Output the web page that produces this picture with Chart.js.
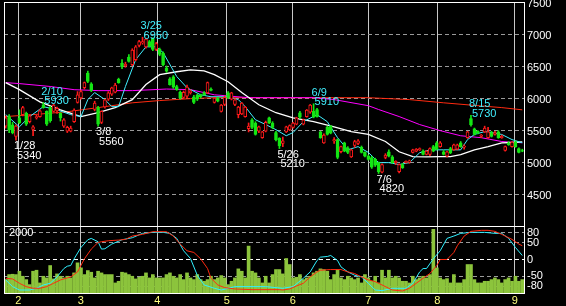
<!DOCTYPE html>
<html>
<head>
<meta charset="utf-8">
<script src="https://cdn.jsdelivr.net/npm/chart.js@4.4.0/dist/chart.umd.min.js"></script>
<style>
  html, body { margin: 0; padding: 0; background: #000; overflow: hidden; }
  #wrap { position: relative; width: 566px; height: 306px; background: #000; }
  #priceChart { position: absolute; left: 0; top: 0; }
  #subChart { position: absolute; left: 0; top: 226px; }
</style>
</head>
<body>
<div id="wrap">
  <canvas id="priceChart" width="566" height="227"></canvas>
  <canvas id="subChart" width="566" height="80"></canvas>
</div>
<script>
// daily candles, one entry per trading day (late Jan .. early Sep)
const opens = [
  5560,5710,5580,5400,5690,5740,5760,5630,5510,5690,
  5710,5895,5790,5850,5790,5800,5760,5560,5480,5480,
  5630,5930,6000,6160,6390,6220,5820,5850,5620,5860,
  5980,6060,6090,6290,6540,6500,6640,6520,6600,6820,
  6860,6800,6880,6930,6760,6760,6700,6470,6300,6330,
  6180,6090,6010,6030,6080,6020,6050,6040,6080,6080,
  6140,5930,6000,5790,5900,6080,5980,5900,5740,5750,
  5710,5520,5660,5610,5480,5380,5480,5690,5610,5460,
  5370,5290,5470,5500,5540,5590,5770,5590,5710,5780,
  5790,5820,5470,5300,5540,5560,5330,5350,5160,5300,
  5220,5080,5260,5290,5230,5150,5090,5070,5040,4990,
  4840,5070,5160,5080,4990,4850,4960,4990,5000,5150,
  5170,5190,5170,5120,5120,5240,5300,5240,5160,5090,
  5210,5190,5200,5300,5230,5380,5680,5520,5480,5400,
  5470,5380,5460,5430,5470,5380,5180,5300,5240,5310,
  5210,5180
];
const highs = [
  5720,5740,5620,5580,5815,5870,5780,5740,5570,5730,
  5820,5930,5800,5870,5910,5860,5770,5680,5560,5560,
  5830,6100,6120,6250,6420,6240,5950,5870,5800,5980,
  6100,6170,6230,6310,6600,6560,6680,6770,6820,6900,
  6950,6930,6900,6940,6870,6780,6720,6500,6320,6350,
  6200,6110,6110,6200,6130,6040,6060,6060,6100,6250,
  6160,6010,6010,5900,6030,6100,6090,5990,5870,5930,
  5870,5610,5680,5630,5560,5480,5640,5700,5630,5480,
  5380,5390,5560,5580,5620,5700,5790,5670,5820,5900,
  5910,5840,5480,5440,5560,5570,5380,5360,5250,5310,
  5240,5200,5340,5350,5250,5160,5110,5090,5060,5000,
  4970,5130,5190,5100,5020,4970,4980,5020,5030,5200,
  5210,5220,5190,5180,5220,5260,5320,5320,5180,5170,
  5230,5280,5280,5320,5270,5480,5730,5530,5490,5430,
  5560,5540,5480,5480,5490,5420,5250,5320,5320,5330,
  5220,5200
];
const lows = [
  5530,5460,5440,5340,5600,5720,5570,5610,5410,5670,
  5700,5840,5570,5620,5780,5760,5640,5540,5460,5470,
  5620,5920,5980,6140,6240,6100,5800,5560,5600,5840,
  5960,6040,6080,6230,6460,6480,6560,6500,6580,6800,
  6840,6780,6800,6740,6740,6660,6500,6400,6200,6150,
  6120,5980,5990,6000,6060,5910,5960,6000,6040,6070,
  6110,5920,5940,5780,5880,5990,5970,5880,5690,5740,
  5700,5470,5520,5420,5460,5370,5470,5600,5520,5330,
  5210,5240,5460,5490,5530,5580,5680,5580,5700,5760,
  5690,5700,5370,5290,5420,5440,5290,5050,5140,5160,
  5130,5070,5230,5270,5140,5080,5030,4900,4930,4820,
  4830,5050,5080,4980,4960,4830,4900,4980,4980,5140,
  5160,5180,5110,5110,5100,5160,5190,5230,5110,5080,
  5130,5180,5190,5230,5200,5370,5560,5420,5440,5380,
  5460,5370,5390,5420,5370,5370,5170,5260,5230,5230,
  5140,5160
];
const closes = [
  5690,5500,5460,5560,5615,5850,5590,5720,5550,5710,
  5800,5850,5590,5640,5890,5840,5690,5660,5540,5530,
  5810,6050,6100,6240,6260,6120,5920,5590,5790,5970,
  6080,6160,6200,6240,6490,6530,6570,6750,6800,6880,
  6880,6920,6810,6760,6850,6680,6520,6420,6210,6170,
  6130,6000,6090,6170,6110,5930,5980,6020,6050,6240,
  6120,6000,5950,5890,6010,6010,6080,5970,5860,5920,
  5860,5560,5540,5430,5550,5470,5620,5610,5540,5350,
  5250,5330,5550,5570,5610,5690,5700,5660,5810,5890,
  5700,5710,5380,5420,5430,5450,5350,5070,5240,5170,
  5150,5190,5320,5330,5150,5090,5040,4920,4950,4850,
  4960,5110,5090,4990,5010,4960,4910,5010,5020,5190,
  5200,5210,5120,5170,5210,5170,5200,5300,5120,5160,
  5140,5270,5270,5240,5250,5470,5580,5430,5450,5420,
  5530,5470,5400,5460,5380,5400,5240,5270,5310,5240,
  5150,5170
];
// volume (thousand shares)
const volumes = [
  400,550,560,550,650,500,400,250,650,680,
  300,500,450,820,420,570,500,450,500,450,
  600,900,750,550,670,620,450,650,600,550,
  550,550,300,350,620,600,550,500,420,470,
  500,600,450,550,450,450,450,550,600,500,
  450,550,400,600,450,400,550,400,350,400,
  500,400,450,520,450,250,350,450,720,650,
  450,1400,650,600,450,300,500,300,550,700,
  700,570,1030,850,450,470,550,400,450,500,
  600,650,720,700,650,400,550,700,450,400,
  500,450,400,450,300,550,450,350,500,300,
  680,450,680,450,500,450,350,350,300,500,
  400,450,500,450,550,1900,750,450,400,430,
  300,550,300,300,400,850,850,400,300,300,
  350,350,400,450,400,300,400,450,350,500,
  350,400
];

// moving averages: [day index, price]
const maShort = [[0,5740],[4,5550],[7,5710],[11,5865],[15,5815],[19,5740],[22,5710],[24,5975],[26,6085],[29,5975],[31,5865],[33,5865],[35,6180],[38,6600],[41,6800],[44,6800],[46,6710],[50,6335],[53,6160],[57,6050],[60,6020],[65,6020],[68,5975],[70,5865],[73,5660],[76,5585],[79,5505],[82,5410],[84,5460],[87,5630],[91,5740],[94,5630],[97,5380],[100,5190],[103,5240],[106,5150],[109,4990],[112,4990],[115,4960],[118,4990],[121,5145],[124,5190],[128,5190],[133,5190],[135,5350],[137,5430],[140,5475],[142,5460],[145,5430],[148,5350],[151,5300]];
const maMid = [[0,6240],[4,6130],[10,5940],[16,5815],[22,5710],[27,5770],[32,5850],[37,5975],[41,6210],[45,6365],[50,6410],[54,6440],[58,6425],[61,6365],[65,6255],[69,6085],[74,5895],[79,5770],[84,5690],[90,5630],[96,5550],[101,5475],[106,5430],[111,5320],[115,5160],[119,5085],[123,5080],[127,5085],[130,5085],[133,5115],[137,5190],[141,5240],[145,5300],[148,5305],[151,5315]];
const maLong = [[0,6240],[4,6225],[13,6180],[20,6130],[27,6115],[37,6115],[47,6140],[54,6130],[61,6050],[71,6005],[80,6005],[90,6005],[96,5975],[106,5880],[109,5820],[115,5710],[121,5585],[127,5490],[133,5410],[139,5380],[145,5320],[151,5300]];
const maYear = [[0,5710],[8,5740],[18,5785],[27,5850],[37,5925],[45,5960],[54,5990],[61,6005],[106,6005],[118,5975],[128,5925],[138,5880],[145,5850],[151,5815]];

// oscillator pair in the lower panel
const oscFast = [[0,-61],[2,-81],[4,-91],[7,-91],[9,-86],[11,-76],[13,-71],[15,-52],[17,-27],[18,-20],[19,-18],[20,2],[22,36],[24,59],[25,63],[27,53],[28,31],[29,32],[31,46],[34,59],[37,65],[40,78],[43,81],[46,81],[48,78],[50,63],[52,26],[54,3],[56,-47],[58,-76],[61,-86],[63,-91],[67,-81],[76,-81],[81,-86],[84,-81],[87,-56],[89,-37],[91,-3],[92,7],[94,9],[95,12],[97,-3],[98,-22],[100,-37],[102,-47],[104,-52],[106,-71],[108,-91],[110,-93],[113,-86],[117,-86],[119,-71],[121,-37],[122,-27],[123,-27],[125,2],[127,26],[129,63],[131,70],[133,78],[136,81],[140,81],[143,78],[145,78],[147,63],[149,36],[151,12]];
const oscSlow = [[0,-56],[2,-58],[4,-71],[6,-81],[8,-86],[10,-86],[12,-81],[14,-71],[16,-61],[18,-55],[19,-52],[21,-37],[23,2],[25,31],[27,51],[28,53],[30,56],[33,58],[35,60],[37,70],[40,75],[43,83],[47,83],[49,70],[51,46],[53,26],[55,21],[57,2],[59,-27],[60,-56],[62,-76],[64,-84],[67,-88],[72,-90],[80,-90],[81,-91],[83,-88],[85,-79],[87,-71],[89,-52],[91,-37],[92,-32],[95,-30],[98,-30],[100,-37],[102,-42],[104,-52],[106,-61],[108,-66],[110,-76],[113,-91],[116,-94],[118,-86],[120,-71],[122,-56],[124,-42],[126,-18],[127,0],[129,0],[131,21],[132,41],[134,70],[136,84],[139,87],[141,87],[143,84],[145,75],[148,60],[150,46],[151,41]];

// month boundaries on the day axis and their labels
const monthTicks = [3.68, 21.92, 44.31, 64.6, 83.89, 105.99, 126.16, 148.78];
const monthLabels = ['2', '3', '4', '5', '6', '7', '8', '9'];
const priceTicks = [4500, 5000, 5500, 6000, 6500, 7000, 7500];
const oscTicks = [-80, -50, 0, 50, 80];

// marked highs and lows
const markIndex = [3, 11, 27, 40, 80, 90, 109, 136];
const markDate = ['1/28', '2/10', '3/8', '3/25', '5/26', '6/9', '7/6', '8/15'];
const markPrice = [5340, 5930, 5560, 6950, 5210, 5910, 4820, 5730];
const markIsHigh = [false, true, false, true, false, true, false, true];

const FONT = "'Liberation Sans', Arial, sans-serif";
const UP = '#ff1a1a';
const DOWN = '#14e614';
const CYAN = '#40f0ff';

function isUp(i) { return closes[i] >= opens[i]; }
function pts(pairs) { return pairs.map(p => ({ x: p[0], y: p[1] })); }
function lineSet(pairs, color, width, order) {
    return {
        type: 'line', data: pts(pairs), yAxisID: 'y', borderColor: color, borderWidth: width,
        pointRadius: 0, tension: 0, order: order
    };
}

function dayAxis(showLabels) {
    return {
        type: 'linear', min: -0.5, max: 151.5, offset: false, bounds: 'data',
        afterBuildTicks: s => { s.ticks = monthTicks.map(v => ({ value: v })); },
        afterFit: s => { s.height = showLabels ? 13 : 0; s.paddingLeft = 0; s.paddingRight = 0; },
        grid: { color: '#c8c8c8', lineWidth: 1, drawTicks: false, offset: false },
        border: { display: false },
        ticks: {
            display: showLabels, autoSkip: false, maxRotation: 0, padding: 1,
            color: '#ffff80', font: { family: FONT, size: 11 },
            callback: (v, i) => monthLabels[i]
        }
    };
}

const frame = {
    id: 'frame',
    afterDraw(chart) {
        const { ctx, chartArea: a } = chart;
        ctx.save();
        ctx.strokeStyle = '#ffffff';
        ctx.lineWidth = 1;
        ctx.strokeRect(a.left + 0.5, a.top + 0.5, a.right - a.left, a.bottom - a.top);
        ctx.restore();
    }
};

const markLabels = {
    id: 'markLabels',
    afterDatasetsDraw(chart) {
        const { ctx, scales: { x, y } } = chart;
        ctx.save();
        ctx.font = '11px ' + FONT;
        ctx.textAlign = 'left';
        ctx.textBaseline = 'alphabetic';
        markIndex.forEach((idx, k) => {
            const px = x.getPixelForValue(idx);
            const py = y.getPixelForValue(markPrice[k]);
            if (markIsHigh[k]) {
                ctx.fillStyle = CYAN;
                ctx.fillText(markDate[k], px - 2, py - 7.8);
                ctx.fillText(String(markPrice[k]), px + 1, py + 1.5);
            } else {
                ctx.fillStyle = '#ffffff';
                ctx.fillText(markDate[k], px - 2, py + 9);
                ctx.fillText(String(markPrice[k]), px + 1, py + 18.5);
            }
        });
        ctx.restore();
    }
};

const volLabel = {
    id: 'volLabel',
    afterDatasetsDraw(chart) {
        const { ctx, scales: { vol } } = chart;
        ctx.save();
        ctx.font = '11px ' + FONT;
        ctx.fillStyle = '#ffffff';
        ctx.textAlign = 'left';
        ctx.textBaseline = 'alphabetic';
        ctx.fillText('2000', 9, vol.getPixelForValue(2000) + 9.5);
        ctx.restore();
    }
};

function init() {
    const priceCtx = document.getElementById('priceChart');
    new Chart(priceCtx, {
        type: 'bar',
        data: {
            datasets: [
                lineSet(maYear, '#ff2a10', 1, 6),
                lineSet(maLong, '#ff00ff', 1, 5),
                lineSet(maMid, '#ffffff', 1.3, 4),
                lineSet(maShort, CYAN, 1, 3),
                {
                    data: opens.map((o, i) => ({ x: i, y: [lows[i], highs[i]] })),
                    backgroundColor: opens.map((o, i) => isUp(i) ? UP : DOWN),
                    barThickness: 1, grouped: false, order: 1
                },
                {
                    data: opens.map((o, i) => ({ x: i, y: [o, closes[i]] })),
                    backgroundColor: opens.map((o, i) => isUp(i) ? '#000000' : DOWN),
                    borderColor: opens.map((o, i) => isUp(i) ? UP : DOWN),
                    borderWidth: 1, borderSkipped: false,
                    barThickness: 3, grouped: false, order: 0
                }
            ]
        },
        options: {
            responsive: false,
            animation: false,
            devicePixelRatio: 1,
            layout: { padding: { left: 4, top: 2, right: 0, bottom: 1 } },
            plugins: { legend: { display: false }, tooltip: { enabled: false } },
            scales: {
                x: dayAxis(false),
                y: {
                    position: 'right', min: 4000, max: 7500,
                    afterBuildTicks: s => { s.ticks = priceTicks.map(v => ({ value: v })); },
                    afterFit: s => { s.width = 42; s.paddingTop = 0; s.paddingBottom = 0; },
                    grid: {
                        drawTicks: false,
                        color: c => c.tick && c.tick.value === 7500 ? 'rgba(0,0,0,0)' : '#9a9a9a'
                    },
                    border: { display: false, dash: [4, 3] },
                    ticks: {
                        autoSkip: false, padding: 3, labelOffset: 2,
                        color: '#ffffff', font: { family: FONT, size: 11 },
                        callback: v => String(v)
                    }
                }
            }
        },
        plugins: [markLabels, frame]
    });

    const subCtx = document.getElementById('subChart');
    new Chart(subCtx, {
        type: 'bar',
        data: {
            datasets: [
                lineSet(oscSlow, '#ff2a10', 1, 0),
                lineSet(oscFast, '#30f0ff', 1, 1),
                {
                    data: volumes.map((v, i) => ({ x: i, y: v })),
                    yAxisID: 'vol',
                    backgroundColor: '#8cc43c',
                    barThickness: 3, grouped: false, order: 2
                }
            ]
        },
        options: {
            responsive: false,
            animation: false,
            devicePixelRatio: 1,
            layout: { padding: { left: 4, top: 0, right: 0, bottom: 0 } },
            plugins: { legend: { display: false }, tooltip: { enabled: false } },
            scales: {
                x: dayAxis(true),
                y: {
                    position: 'right', min: -100, max: 100,
                    afterBuildTicks: s => { s.ticks = oscTicks.map(v => ({ value: v })); },
                    afterFit: s => { s.width = 42; s.paddingTop = 0; s.paddingBottom = 0; },
                    grid: {
                        drawTicks: false,
                        color: c => c.tick && c.tick.value === 0 ? '#ffffff' : '#9a9a9a'
                    },
                    border: { display: false, dash: [4, 3] },
                    ticks: {
                        autoSkip: false, padding: 3,
                        color: '#ffffff', font: { family: FONT, size: 11 },
                        callback: v => String(v)
                    }
                },
                vol: { display: false, position: 'left', min: 0, max: 2000 }
            }
        },
        plugins: [volLabel, frame]
    });
}

init();
</script>
</body>
</html>
